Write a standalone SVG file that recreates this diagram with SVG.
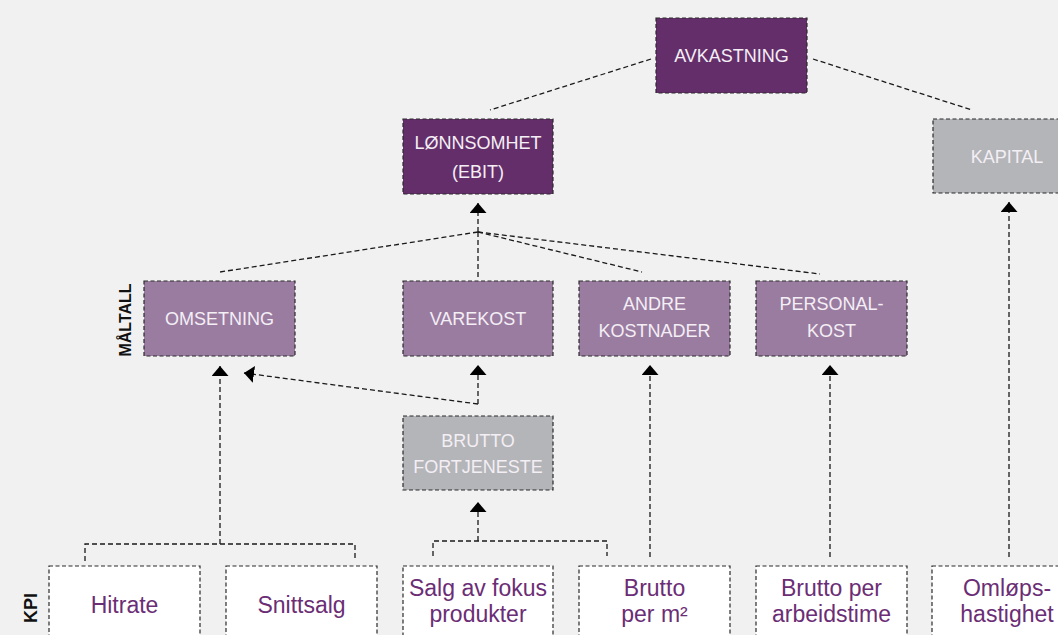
<svg xmlns="http://www.w3.org/2000/svg" width="1058" height="635" viewBox="0 0 1058 635">
<style>
.box{stroke:#2a2a2a;stroke-width:1.2;stroke-dasharray:4,2.5}
.dark{fill:#642e6b}
.mid{fill:#9a7ca1}
.grey{fill:#b3b5b8}
.kpi{fill:#ffffff}
.bt{font-family:"Liberation Sans",Arial,sans-serif;font-size:18px;fill:#f4eef5;text-anchor:middle}
.kt{font-family:"Liberation Sans",Arial,sans-serif;font-size:23px;fill:#6b2d75;text-anchor:middle}
.lab{font-family:"Liberation Sans",Arial,sans-serif;font-weight:bold;fill:#111;text-anchor:middle}
.con{fill:none;stroke:#1a1a1a;stroke-width:1.3;stroke-dasharray:5,3}
</style>
<defs>
<marker id="arr" viewBox="0 0 10 10" refX="10" refY="5" markerWidth="10" markerHeight="17" markerUnits="userSpaceOnUse" orient="auto" preserveAspectRatio="none">
<path d="M0,0 L10,5 L0,10 z" fill="#000"/>
</marker>
</defs>
<rect width="1058" height="635" fill="#f1f1f1"/>
<g id="connectors">
<line class="con" x1="651" y1="59" x2="490" y2="110"/>
<line class="con" x1="813" y1="59" x2="972" y2="110"/>
<line class="con" x1="478" y1="232" x2="478" y2="203" marker-end="url(#arr)"/>
<line class="con" x1="478" y1="232" x2="220" y2="272"/>
<line class="con" x1="478" y1="232" x2="642" y2="272"/>
<line class="con" x1="478" y1="232" x2="820" y2="274"/>
<line class="con" x1="478" y1="232" x2="478" y2="277"/>
<line class="con" x1="1009" y1="557" x2="1009" y2="202" marker-end="url(#arr)"/>
<line class="con" x1="220" y1="544" x2="220" y2="366" marker-end="url(#arr)"/>
<line class="con" x1="478" y1="404" x2="244" y2="373" marker-end="url(#arr)"/>
<line class="con" x1="478" y1="404" x2="478" y2="365" marker-end="url(#arr)"/>
<line class="con" x1="650" y1="557" x2="650" y2="365" marker-end="url(#arr)"/>
<line class="con" x1="830" y1="557" x2="830" y2="365" marker-end="url(#arr)"/>
<line class="con" x1="478" y1="541" x2="478" y2="502" marker-end="url(#arr)"/>
<path class="con" d="M85,561 V544 H355 V561"/>
<path class="con" d="M433,556 V541 H607 V556"/>
</g>
<g id="avkastning"><rect class="box dark" x="656" y="18" width="151" height="75"/><text class="bt" x="731.5" y="62">AVKASTNING</text></g>
<g id="kapital"><rect class="box grey" x="933" y="119" width="140" height="74"/><text class="bt" x="1007" y="163">KAPITAL</text></g>
<g id="lonnsomhet"><rect class="box dark" x="403" y="119" width="150" height="75"/><text class="bt" x="478" y="149">LØNNSOMHET</text><text class="bt" x="478" y="178">(EBIT)</text></g>
<g id="omsetning"><rect class="box mid" x="144" y="281" width="151" height="75"/><text class="bt" x="219.5" y="325">OMSETNING</text></g>
<g id="varekost"><rect class="box mid" x="403" y="281" width="150" height="75"/><text class="bt" x="478" y="325">VAREKOST</text></g>
<g id="andre"><rect class="box mid" x="579" y="281" width="151" height="75"/><text class="bt" x="654.5" y="310">ANDRE</text><text class="bt" x="654.5" y="337">KOSTNADER</text></g>
<g id="personal"><rect class="box mid" x="756" y="281" width="151" height="75"/><text class="bt" x="831.5" y="310">PERSONAL-</text><text class="bt" x="831.5" y="337">KOST</text></g>
<g id="brutto-fortjeneste"><rect class="box grey" x="403" y="416" width="150" height="74"/><text class="bt" x="478" y="447">BRUTTO</text><text class="bt" x="478" y="473">FORTJENESTE</text></g>
<g id="hitrate"><rect class="box kpi" x="49" y="566" width="151" height="90"/><text class="kt" x="124.5" y="613">Hitrate</text></g>
<g id="snittsalg"><rect class="box kpi" x="226" y="566" width="151" height="90"/><text class="kt" x="301.5" y="613">Snittsalg</text></g>
<g id="salg"><rect class="box kpi" x="403" y="566" width="150" height="90"/><text class="kt" x="478" y="596">Salg av fokus</text><text class="kt" x="478" y="622">produkter</text></g>
<g id="brutto-m2"><rect class="box kpi" x="579" y="566" width="151" height="90"/><text class="kt" x="654.5" y="596">Brutto</text><text class="kt" x="654.5" y="622">per m²</text></g>
<g id="brutto-arbeid"><rect class="box kpi" x="756" y="566" width="151" height="90"/><text class="kt" x="831.5" y="596">Brutto per</text><text class="kt" x="831.5" y="622">arbeidstime</text></g>
<g id="omlop"><rect class="box kpi" x="932" y="566" width="151" height="90"/><text class="kt" x="1007" y="596">Omløps-</text><text class="kt" x="1007" y="622">hastighet</text></g>
<g id="labels">
<text class="lab" font-size="16" transform="translate(131,320) rotate(-90)">MÅLTALL</text>
<text class="lab" font-size="18" transform="translate(37,608) rotate(-90)">KPI</text>
</g>
</svg>
